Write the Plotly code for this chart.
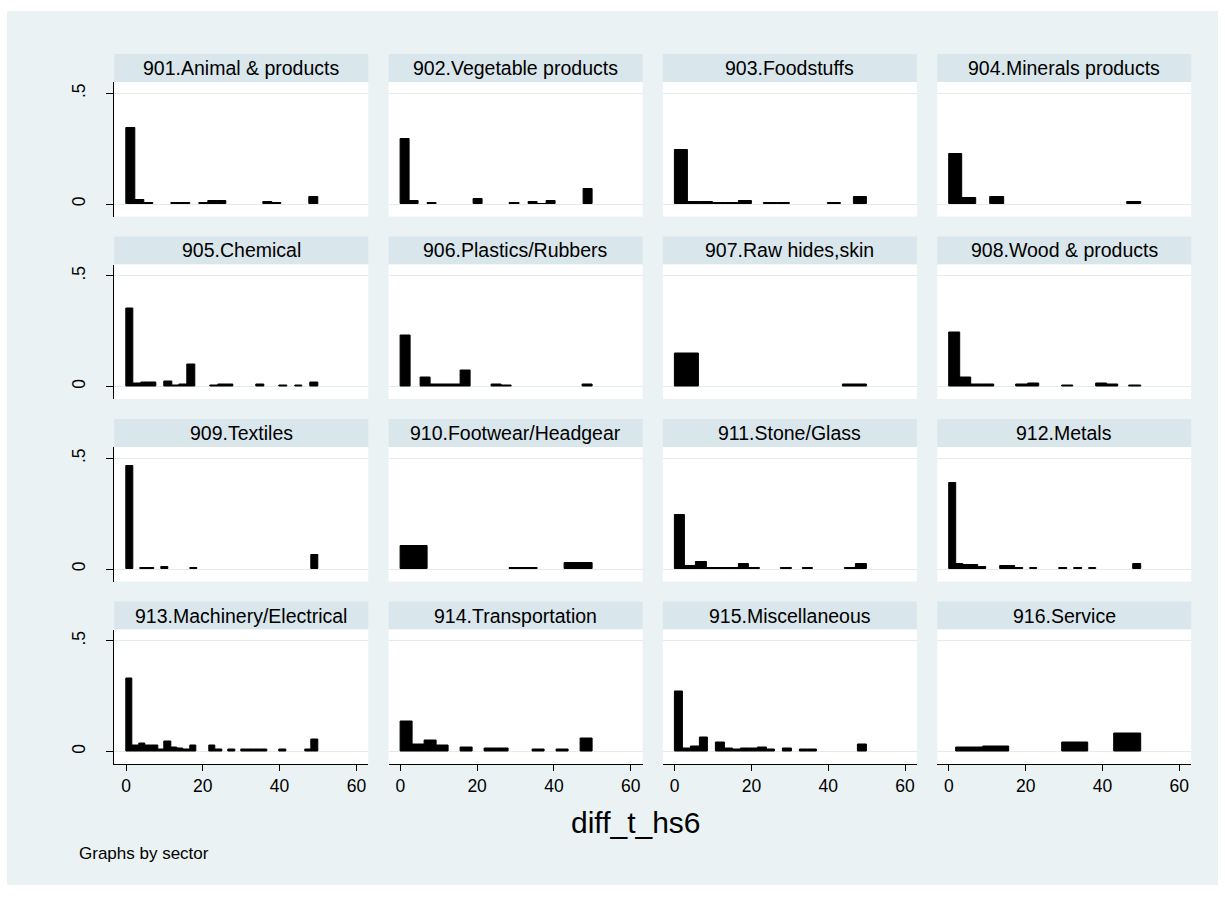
import plotly.graph_objects as go

# ---------------- data (histogram densities) ----------------
sectors = [
    "901.Animal & products", "902.Vegetable products", "903.Foodstuffs", "904.Minerals products",
    "905.Chemical", "906.Plastics/Rubbers", "907.Raw hides,skin", "908.Wood & products",
    "909.Textiles", "910.Footwear/Headgear", "911.Stone/Glass", "912.Metals",
    "913.Machinery/Electrical", "914.Transportation", "915.Miscellaneous", "916.Service",
]

h901 = [0.342, 0.018, 0.006, 0, 0, 0.006, 0.006, 0, 0.006, 0.012, 0.012, 0, 0, 0, 0, 0.009, 0.005, 0, 0, 0, 0.030]
h902 = [0.292, 0.012, 0, 0.005, 0, 0, 0, 0, 0.023, 0, 0, 0, 0.005, 0, 0.008, 0.002, 0.015, 0, 0, 0, 0.069]
h903 = [0.244, 0.009, 0.009, 0.003, 0.003, 0.012, 0, 0.005, 0.005, 0, 0, 0, 0.005, 0, 0.030]
h904 = [0.226, 0.027, 0, 0.033, 0, 0, 0, 0, 0, 0, 0, 0, 0, 0.008]
h905 = [0.353, 0.015, 0.020, 0.017, 0, 0.021, 0.005, 0.009, 0.098, 0, 0, 0.005, 0.010, 0.010,
        0, 0, 0, 0.009, 0, 0, 0.005, 0, 0.005, 0, 0.018]
h906 = [0.230, 0, 0.039, 0.009, 0.009, 0.009, 0.072, 0, 0, 0.009, 0.003, 0, 0, 0, 0, 0, 0, 0, 0.009]
h907 = [0.148, 0, 0, 0, 0, 0, 0, 0.011]
h908 = [0.243, 0.042, 0.011, 0.008, 0, 0, 0.008, 0.012, 0, 0, 0.003, 0, 0, 0.012, 0.008, 0, 0.003]
h909 = [0.465, 0, 0.006, 0.006, 0, 0.011, 0, 0, 0, 0.005, 0, 0, 0, 0, 0, 0, 0, 0, 0, 0,
        0, 0, 0, 0, 0, 0, 0.064]
h910 = [0.106, 0, 0, 0, 0.006, 0, 0.027]
h911 = [0.244, 0.012, 0.032, 0.007, 0.007, 0.007, 0.024, 0.007, 0, 0, 0.007, 0, 0.007, 0, 0, 0, 0.007, 0.024]
h912 = [0.389, 0.023, 0.017, 0.017, 0.011, 0, 0, 0.012, 0.012, 0.006, 0, 0.006, 0, 0, 0, 0.006,
        0, 0.006, 0, 0.006, 0, 0, 0, 0, 0, 0.024]
h913 = [0.330, 0.027, 0.038, 0.027, 0.027, 0.008, 0.044, 0.017, 0.014, 0.008, 0.027, 0, 0, 0.027,
        0.008, 0, 0.008, 0, 0.008, 0.008, 0.008, 0.008, 0, 0, 0.008, 0, 0, 0, 0.009, 0.056]
h914 = [0.138, 0.030, 0.050, 0.027, 0, 0.020, 0, 0.015, 0.015, 0, 0, 0.011, 0, 0.011, 0, 0.060]
h915 = [0.270, 0.015, 0.021, 0.063, 0, 0.041, 0.012, 0.008, 0.014, 0.014, 0.017, 0.008, 0, 0.014,
        0, 0.011, 0.011, 0, 0, 0, 0, 0, 0.030]
h916 = [0.020, 0.023, 0, 0, 0.042, 0, 0.080]

heights = [h901, h902, h903, h904, h905, h906, h907, h908,
           h909, h910, h911, h912, h913, h914, h915, h916]
bin_lo = [0, 0, 0, 0, 0, 0, 0, 0, 0, 0, 0, 0, 0, 0, 0, 2]
bin_hi = [50] * 16

x_ticks = [0, 20, 40, 60]
y_ticks = [0, 0.5]
y_ticktext = ["0", ".5"]

# ---------------- layout geometry ----------------
W, H = 1225, 898
BG = "#EAF2F3"
STRIP = "#D9E6EB"
GRID = "#E2EBEE"
FONT = "Liberation Sans, Arial, sans-serif"

col_left = [114.3 + 274.3 * i for i in range(4)]
panel_w = 254
row_top = [54 + 182.5 * r for r in range(4)]
strip_h = 28
plot_h = 134.5
x_range = [-3.05, 63.1]
y_range = [-0.056, 0.551]


def fx(px):
    return px / W


def fy(py):
    return 1 - py / H


fig = go.Figure()
shapes = [dict(type="rect", xref="paper", yref="paper", x0=fx(7), x1=fx(1218),
               y0=fy(885), y1=fy(11), fillcolor=BG, line_width=0, layer="below")]
annotations = []
layout_axes = {}

for k, (name, h) in enumerate(zip(sectors, heights)):
    r, c = divmod(k, 4)
    L = col_left[c]
    T = row_top[r]
    shapes.append(dict(type="rect", xref="paper", yref="paper", x0=fx(L), x1=fx(L + panel_w),
                       y0=fy(T + strip_h), y1=fy(T), fillcolor=STRIP, line_width=0, layer="below"))
    shapes.append(dict(type="rect", xref="paper", yref="paper", x0=fx(L), x1=fx(L + panel_w),
                       y0=fy(T + strip_h + plot_h), y1=fy(T + strip_h), fillcolor="white",
                       line_width=0, layer="below"))
    annotations.append(dict(text=name, xref="paper", yref="paper", x=fx(L + panel_w / 2),
                            y=fy(T + strip_h / 2), xanchor="center", yanchor="middle",
                            showarrow=False, font=dict(size=19.5, color="black", family=FONT)))

    n = len(h)
    w = (bin_hi[k] - bin_lo[k]) / n
    xs = [bin_lo[k] + (i + 0.5) * w for i in range(n) if h[i] > 0]
    ys = [v for v in h if v > 0]
    suffix = "" if k == 0 else str(k + 1)
    fig.add_trace(go.Bar(x=xs, y=ys, width=w, marker=dict(color="black", line=dict(color="black", width=1)),
                         xaxis="x" + suffix, yaxis="y" + suffix, hoverinfo="skip", showlegend=False))

    xa = dict(domain=[fx(L), fx(L + panel_w)], range=x_range, anchor="y" + suffix,
              showgrid=False, zeroline=False, fixedrange=True)
    if r == 3:
        xa.update(showline=True, linecolor="black", linewidth=1, ticks="outside", ticklen=6,
                  tickcolor="black", tickvals=x_ticks, showticklabels=True,
                  tickfont=dict(size=17.5, color="black", family=FONT))
    else:
        xa.update(showline=False, ticks="", showticklabels=False)
    ya = dict(domain=[fy(T + strip_h + plot_h), fy(T + strip_h)], range=y_range,
              anchor="x" + suffix, showgrid=True, gridcolor=GRID, gridwidth=1, zeroline=False,
              tickvals=y_ticks, ticktext=y_ticktext, fixedrange=True)
    if c == 0:
        ya.update(showline=True, linecolor="black", linewidth=1, ticks="outside", ticklen=7,
                  tickcolor="black", showticklabels=True, tickangle=-90, ticklabelstandoff=14,
                  tickfont=dict(size=17.5, color="black", family=FONT))
    else:
        ya.update(showline=False, ticks="", showticklabels=False)
    layout_axes["xaxis" + suffix] = xa
    layout_axes["yaxis" + suffix] = ya

annotations.append(dict(text="diff_t_hs6", xref="paper", yref="paper", x=fx(636), y=fy(822),
                        xanchor="center", yanchor="middle", showarrow=False,
                        font=dict(size=30, color="black", family=FONT)))
annotations.append(dict(text="Graphs by sector", xref="paper", yref="paper", x=fx(77), y=fy(853),
                        xanchor="left", yanchor="middle", showarrow=False,
                        font=dict(size=17, color="black", family=FONT)))

fig.update_layout(width=W, height=H, margin=dict(l=0, r=0, t=0, b=0, autoexpand=False),
                  paper_bgcolor="white", plot_bgcolor="rgba(0,0,0,0)", showlegend=False,
                  shapes=shapes, annotations=annotations, bargap=0,
                  font=dict(family=FONT, color="black"), **layout_axes)

fig.write_html("out.html")
